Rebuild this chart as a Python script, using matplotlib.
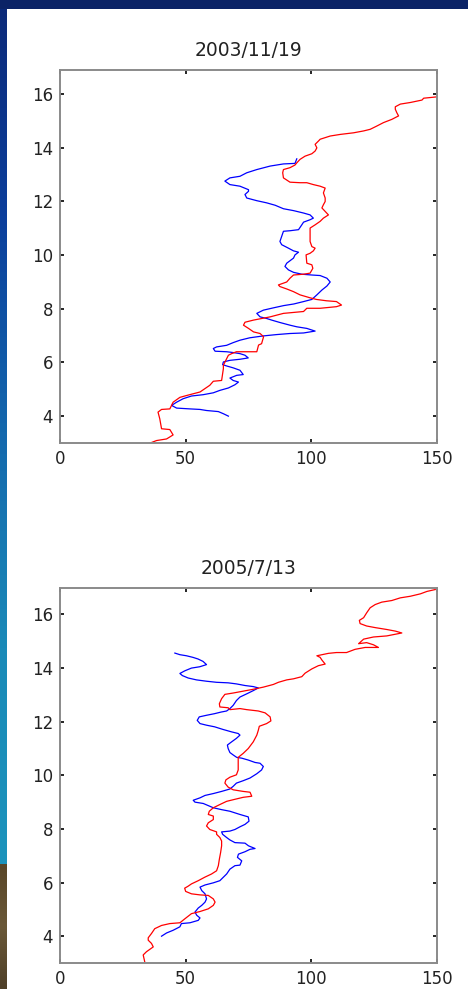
import numpy as np
import matplotlib
matplotlib.use("Agg")
import matplotlib.pyplot as plt
from matplotlib.colors import LinearSegmentedColormap

# panel titles
titles = ["2003/11/19", "2005/7/13"]
xticks = [0, 50, 100, 150]
yticks = [4, 6, 8, 10, 12, 14, 16]

# 2003/11/19 - red profile (value, height)
red1_x = [34, 38.4, 42.4, 45, 43.7, 40.4, 39.7, 39, 40.4, 43.7, 45, 47.7, 50.4, 55.7, 59.6, 61, 64.3, 65, 65,
          67, 68.3, 70.2, 78.3, 79, 80.2, 81, 79.6, 77, 75, 73, 73.6, 77, 83.6, 88.9, 96.9, 98.2, 103.5, 110, 112,
          110, 106, 102, 99.5, 95.5, 92.9, 90.2, 87.5, 86.9, 90.2, 91.5, 92.9, 96.9, 99.5, 100.6, 100.2, 98.2,
          97.9, 99.5, 100.8, 101.5, 100.2, 99.5, 99.5, 101.5, 103.5, 104.8, 106.8, 105.5, 104.2, 104.8, 105.5,
          105.5, 104.8, 105.5, 103.5, 100.8, 98.2, 95.5, 91.5, 88.9, 88.6, 88.9, 91.5, 93.5, 94.2, 95.5, 97.5,
          100.2, 101.5, 102.2, 101.5, 102.8, 103.5, 107.5, 111.5, 116.8, 120.8, 123.4, 126, 128.7, 132, 134.7,
          134, 133.4, 133.4, 135.4, 139.4, 144, 144.7, 150]
red1_y = [2.93, 3.09, 3.15, 3.3, 3.5, 3.53, 3.9, 4.15, 4.25, 4.27, 4.52, 4.7, 4.77, 4.9, 5.15, 5.3, 5.33, 5.77, 5.9,
          6.27, 6.33, 6.4, 6.4, 6.65, 6.7, 6.96, 7.08, 7.14, 7.27, 7.39, 7.5, 7.58, 7.7, 7.83, 7.9, 8.02, 8.02, 8.08,
          8.14, 8.27, 8.3, 8.35, 8.41, 8.52, 8.64, 8.74, 8.83, 8.89, 9.0, 9.14, 9.26, 9.29, 9.33, 9.51, 9.64, 9.7,
          10.01, 10.07, 10.16, 10.26, 10.32, 10.51, 11.01, 11.13, 11.26, 11.38, 11.5, 11.63, 11.76, 11.88, 12.0,
          12.13, 12.32, 12.5, 12.57, 12.63, 12.7, 12.7, 12.72, 12.88, 13.07, 13.19, 13.26, 13.36, 13.44, 13.57,
          13.69, 13.78, 13.88, 14.0, 14.13, 14.25, 14.32, 14.44, 14.5, 14.56, 14.63, 14.69, 14.81, 14.94, 15.06,
          15.19, 15.31, 15.44, 15.53, 15.63, 15.69, 15.78, 15.85, 15.9]

# 2003/11/19 - blue profile
blue1_x = [67, 65, 63, 58.3, 55.7, 51.7, 46.4, 44.4, 46.4, 49, 52.3, 57, 61, 63.6, 67, 69.6, 71, 68.9, 67.6, 70.3,
           72.9, 71.6, 68.9, 66.3, 64.7, 65, 67.6, 71.6, 74.9, 73.6, 71.6, 68.9, 66.3, 61.7, 61, 62.3, 66.3, 68.9,
           71.6, 75.5, 80.9, 86.2, 91.5, 96.9, 101.5, 98.2, 94.2, 91.5, 87.5, 84.2, 82.2, 79.6, 78.3, 80.9, 85.1,
           89, 93, 96.9, 100.2, 102.2, 104.2, 106.2, 107.5, 106.2, 103.5, 100.2, 96.2, 92.9, 90.9, 89.5, 90.2,
           92.9, 93.5, 94.9, 92.9, 90.9, 88.2, 87.5, 88.2, 88.9, 91.5, 94.9, 96.2, 96.9, 99.5, 100.8, 99.5, 96.9,
           92.9, 88.9, 85.6, 82.2, 78.3, 74.3, 73.6, 75, 75, 71.6, 67.6, 65.6, 67.6, 71.6, 74.3, 78.3, 83.6, 88.9,
           93.5, 94.2]
blue1_y = [4.0, 4.09, 4.17, 4.21, 4.25, 4.27, 4.3, 4.4, 4.52, 4.65, 4.75, 4.8, 4.87, 4.96, 5.05, 5.17, 5.27, 5.33,
           5.42, 5.52, 5.55, 5.71, 5.8, 5.87, 5.92, 6.02, 6.08, 6.12, 6.17, 6.27, 6.33, 6.37, 6.4, 6.42, 6.52, 6.58,
           6.64, 6.74, 6.83, 6.92, 6.99, 7.04, 7.08, 7.1, 7.17, 7.27, 7.33, 7.39, 7.49, 7.58, 7.64, 7.7, 7.83, 7.95,
           8.04, 8.12, 8.18, 8.27, 8.35, 8.52, 8.7, 8.85, 9.0, 9.14, 9.24, 9.26, 9.29, 9.36, 9.45, 9.58, 9.7, 9.89,
           10.01, 10.11, 10.16, 10.26, 10.39, 10.51, 10.7, 10.89, 10.91, 10.95, 11.13, 11.23, 11.32, 11.38, 11.5,
           11.57, 11.66, 11.73, 11.86, 11.95, 12.03, 12.13, 12.26, 12.38, 12.44, 12.57, 12.63, 12.76, 12.88, 12.94,
           13.07, 13.19, 13.32, 13.4, 13.42, 13.59]

# 2005/7/13 - red profile
red2_x = [33.7, 33.1, 34.4, 37.1, 36.4, 35.1, 35.1, 36.4, 37.7, 40.4, 43.7, 47.7, 49.7, 52.3, 55.7, 59, 61, 61.7,
          61, 59, 55.7, 52.3, 50, 49.6, 50.9, 52.3, 55, 57.6, 60.3, 62.3, 63, 63.4, 63.9, 64.3, 64.3, 63.6, 62.3,
          62.3, 59.6, 58.3, 59, 61, 61, 59, 59.4, 61, 63.6, 66.3, 68.9, 72.9, 76.3, 75.6, 72.9, 68.9, 66.9, 65.6,
          66, 67.6, 70.2, 70.9, 70.9, 70.9, 72.9, 74.9, 76.9, 78.3, 78.9, 79.3, 82.2, 83.9, 83.6, 81.6, 78.9, 74.3,
          71.6, 67.6, 66.9, 63.6, 63.4, 64.3, 65.6, 68.9, 72.9, 76.9, 80.9, 84.9, 86.9, 90.2, 92.9, 96.2, 97.5,
          100.2, 102.8, 105.5, 104.2, 103.5, 102.2, 106.8, 110, 114, 117.4, 121.4, 126.7, 124.7, 122, 118.8, 120.8,
          124.7, 130, 136, 133.4, 130, 125.4, 122, 119.4, 119.1, 120.8, 122, 123.4, 125.4, 128, 132, 135.4, 139.4,
          143.4, 146, 149.3]
red2_y = [3.05, 3.3, 3.42, 3.6, 3.73, 3.85, 3.94, 4.1, 4.28, 4.4, 4.47, 4.5, 4.65, 4.84, 4.92, 5.02, 5.15, 5.27,
          5.39, 5.52, 5.54, 5.58, 5.67, 5.79, 5.86, 5.95, 6.07, 6.2, 6.32, 6.44, 6.63, 6.87, 7.12, 7.37, 7.55, 7.68,
          7.8, 7.89, 7.98, 8.11, 8.23, 8.35, 8.48, 8.54, 8.66, 8.79, 8.91, 9.03, 9.09, 9.18, 9.22, 9.37, 9.4, 9.46,
          9.56, 9.71, 9.83, 9.93, 10.02, 10.2, 10.45, 10.67, 10.82, 11.0, 11.25, 11.5, 11.68, 11.83, 11.93, 12.03,
          12.18, 12.33, 12.4, 12.45, 12.49, 12.45, 12.52, 12.55, 12.67, 12.86, 13.02, 13.07, 13.14, 13.21, 13.29,
          13.39, 13.47, 13.56, 13.6, 13.68, 13.81, 13.97, 14.09, 14.15, 14.3, 14.4, 14.46, 14.55, 14.58, 14.58,
          14.7, 14.77, 14.77, 14.87, 14.95, 14.91, 15.08, 15.16, 15.2, 15.31, 15.38, 15.44, 15.51, 15.57, 15.66,
          15.78, 15.88, 16.06, 16.25, 16.37, 16.46, 16.52, 16.62, 16.68, 16.77, 16.86, 16.93]

# 2005/7/13 - blue profile
blue2_x = [40.4, 42.4, 45, 47.7, 48.3, 51.7, 55, 55.7, 54.4, 53.7, 55, 56.4, 57.7, 58.3, 57.7, 56.4, 55.7, 57.7,
           61, 63.6, 65, 66.3, 67.6, 69.6, 71.6, 72.3, 70.6, 71, 73.6, 75.6, 77.6, 75, 73.6, 69.6, 67.6, 66.3, 64.7,
           64.3, 67.6, 69.6, 71.6, 73.6, 75.2, 74.9, 71.6, 69.6, 67.6, 64.3, 61, 57, 53.7, 53, 55.7, 57.7, 61, 64.3,
           67.6, 68.9, 70.2, 72.9, 75.6, 78.3, 80.2, 80.9, 79.6, 77.6, 74.9, 72.3, 70.3, 68.9, 67.6, 66.9, 66.6,
           68.3, 70.2, 71.6, 70.9, 68.3, 64.9, 61.5, 58.3, 55.7, 54.6, 55.4, 58.3, 61.5, 64.1, 66.3, 67.6, 68.9,
           70.2, 71.6, 74.3, 76.9, 78.9, 76.9, 73.6, 70.2, 66.9, 62.3, 58.3, 54.3, 51, 48.7, 47.7, 49.7, 52.3, 55.6,
           58.3, 56.9, 54.9, 52.9, 50.3, 47.7, 45.7]
blue2_y = [4.0, 4.12, 4.22, 4.35, 4.47, 4.5, 4.59, 4.68, 4.78, 4.9, 5.05, 5.15, 5.27, 5.39, 5.58, 5.7, 5.83, 5.91,
           5.99, 6.07, 6.2, 6.32, 6.5, 6.63, 6.65, 6.81, 6.94, 7.06, 7.15, 7.24, 7.27, 7.37, 7.47, 7.49, 7.59, 7.68,
           7.8, 7.89, 7.92, 7.98, 8.08, 8.17, 8.29, 8.45, 8.54, 8.6, 8.66, 8.72, 8.79, 8.95, 9.0, 9.07, 9.16, 9.25,
           9.32, 9.4, 9.49, 9.59, 9.71, 9.8, 9.9, 10.06, 10.2, 10.33, 10.45, 10.48, 10.57, 10.64, 10.67, 10.76,
           10.85, 11.0, 11.13, 11.25, 11.38, 11.5, 11.56, 11.62, 11.71, 11.81, 11.87, 11.93, 12.05, 12.18, 12.24,
           12.3, 12.36, 12.4, 12.49, 12.61, 12.79, 12.92, 13.04, 13.16, 13.26, 13.31, 13.35, 13.41, 13.45, 13.47,
           13.51, 13.56, 13.63, 13.72, 13.8, 13.9, 14.0, 14.05, 14.13, 14.25, 14.34, 14.4, 14.46, 14.5, 14.56]

fig = plt.figure(figsize=(4.68, 9.89), dpi=100)
fig.patch.set_facecolor("white")

# slide background: navy bar on top, gradient strip on the left
bg = fig.add_axes([0, 0, 1, 1], zorder=-10)
bg.axis("off")
bg.add_patch(plt.Rectangle((0, 0), 468, 9, color="#0b2366", lw=0))
strip = LinearSegmentedColormap.from_list("strip", ["#0b2a78", "#0b3f9c", "#1468ad", "#1a8ab8", "#1c93bc"])
bg.imshow(np.linspace(0, 1, 200).reshape(-1, 1), cmap=strip, aspect="auto", extent=(0, 7, 864, 0))
bg.imshow(np.linspace(0, 1, 50).reshape(-1, 1),
          cmap=LinearSegmentedColormap.from_list("br", ["#594628", "#6a5838", "#4f4028"]),
          aspect="auto", extent=(0, 7, 989, 864))
bg.set_xlim(0, 468)
bg.set_ylim(989, 0)

panels = [
    ([0.1282, 0.5521, 0.8056, 0.3771], red1_x, red1_y, blue1_x, blue1_y, (3, 16.9)),
    ([0.1282, 0.0263, 0.8056, 0.3795], red2_x, red2_y, blue2_x, blue2_y, (3, 17)),
]

for i, (pos, rx, ry, bx, by, ylim) in enumerate(panels):
    ax = fig.add_axes(pos)
    ax.plot(bx, by, color="#0000ff", lw=0.9)
    ax.plot(rx, ry, color="#ff0000", lw=0.9)
    ax.set_xlim(0, 150)
    ax.set_ylim(*ylim)
    ax.set_xticks(xticks)
    ax.set_yticks(yticks)
    ax.tick_params(direction="in", length=3, width=1.2, color="black",
                   top=True, right=True, labelsize=12, labelcolor="#222222", pad=5)
    for s in ax.spines.values():
        s.set_color("#8a8a8a")
        s.set_linewidth(1.4)
    ax.set_title(titles[i], fontsize=13.5, color="#222222", pad=10)

fig.savefig("out.png", dpi=100)
